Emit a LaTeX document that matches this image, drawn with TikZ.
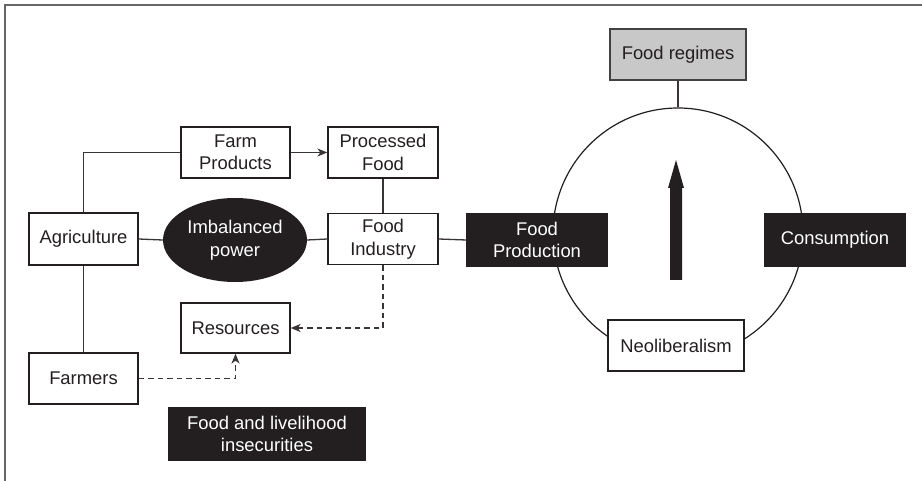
\documentclass[tikz,border=0pt]{standalone}
\usepackage{fontspec}
\setmainfont{Liberation Sans}
\usetikzlibrary{arrows.meta,shapes.geometric}
\definecolor{ink}{HTML}{231F20}
\definecolor{regimegray}{HTML}{C8C8C9}
\tikzset{
  lbl/.style={font=\fontsize{18.4}{22.5}\selectfont, align=center, inner sep=0pt},
  wbox/.style={lbl, draw=ink, line width=1.3pt, fill=white, text=ink},
  bbox/.style={lbl, draw=ink, line width=1.3pt, fill=ink, text=white},
  gbox/.style={lbl, draw=ink!85, line width=1.3pt, fill=regimegray, text=ink},
  link/.style={draw=ink!90, line width=1.3pt},
  dlink/.style={link, dash pattern=on 5.5pt off 4pt},
  tip/.style={-{Stealth[length=10pt,width=8pt,inset=3pt]}},
}
\begin{document}
\begin{tikzpicture}[x=1pt,y=-1pt]
\useasboundingbox (0,0) rectangle (922,481);
\fill[white] (0,0) rectangle (922,481);
\draw[black!60, line width=1.2pt] (5,481) -- (5,5) -- (922,5);

% ring
\node[circle, draw=ink, line width=1.2pt, minimum size=250pt, inner sep=0pt] (ring) at (678,233) {};

% left nodes
\node[wbox, minimum width=109pt, minimum height=52pt] (agri) at (83.5,239) {Agriculture};
\node[wbox, minimum width=109pt, minimum height=51pt] (farm) at (235.5,152.5) {Farm\\Products};
\node[wbox, minimum width=110pt, minimum height=51pt] (proc) at (383,152.5) {Processed\\Food};
\node[wbox, minimum width=110pt, minimum height=51pt] (ind) at (383,239) {Food\\Industry};
\node[ellipse, lbl, fill=ink, text=white, minimum width=144pt, minimum height=84pt] (imb) at (235,240) {Imbalanced\\power};
\node[wbox, minimum width=109pt, minimum height=50pt] (res) at (235.5,328) {Resources};
\node[wbox, minimum width=109pt, minimum height=51pt] (farmers) at (83.5,378.5) {Farmers};
\node[bbox, minimum width=196pt, minimum height=52pt] (insec) at (267,434) {Food and livelihood\\insecurities};

% right nodes
\node[bbox, minimum width=140pt, minimum height=52pt] (prod) at (537,240) {Food\\Production};
\node[bbox, minimum width=140pt, minimum height=52pt] (cons) at (835,240) {Consumption};
\node[wbox, minimum width=136pt, minimum height=51pt] (neo) at (676,345.5) {Neoliberalism};
\node[gbox, minimum width=136pt, minimum height=51pt] (reg) at (678,54.5) {Food regimes};

% connectors
\draw[link] (agri.north) |- (farm.west);
\draw[link, tip] (farm.east) -- (proc.west);
\draw[link] (proc.south) -- (ind.north);
\draw[link] (agri.east) -- (imb.west);
\draw[link] (imb.east) -- (ind.west);
\draw[link] (ind.east) -- (prod.west);
\draw[link] (agri.south) -- (farmers.north);
\draw[link] (reg.south) -- (ring.north);
\draw[dlink, tip] (ind.south) |- (res.east);
\draw[dlink, tip] (farmers.east) -| (res.south);

% central arrow
\fill[ink] (670,280) -- (670,188) -- (668,188) -- (676,160) -- (684,188) -- (682,188) -- (682,280) -- cycle;
\end{tikzpicture}
\end{document}
